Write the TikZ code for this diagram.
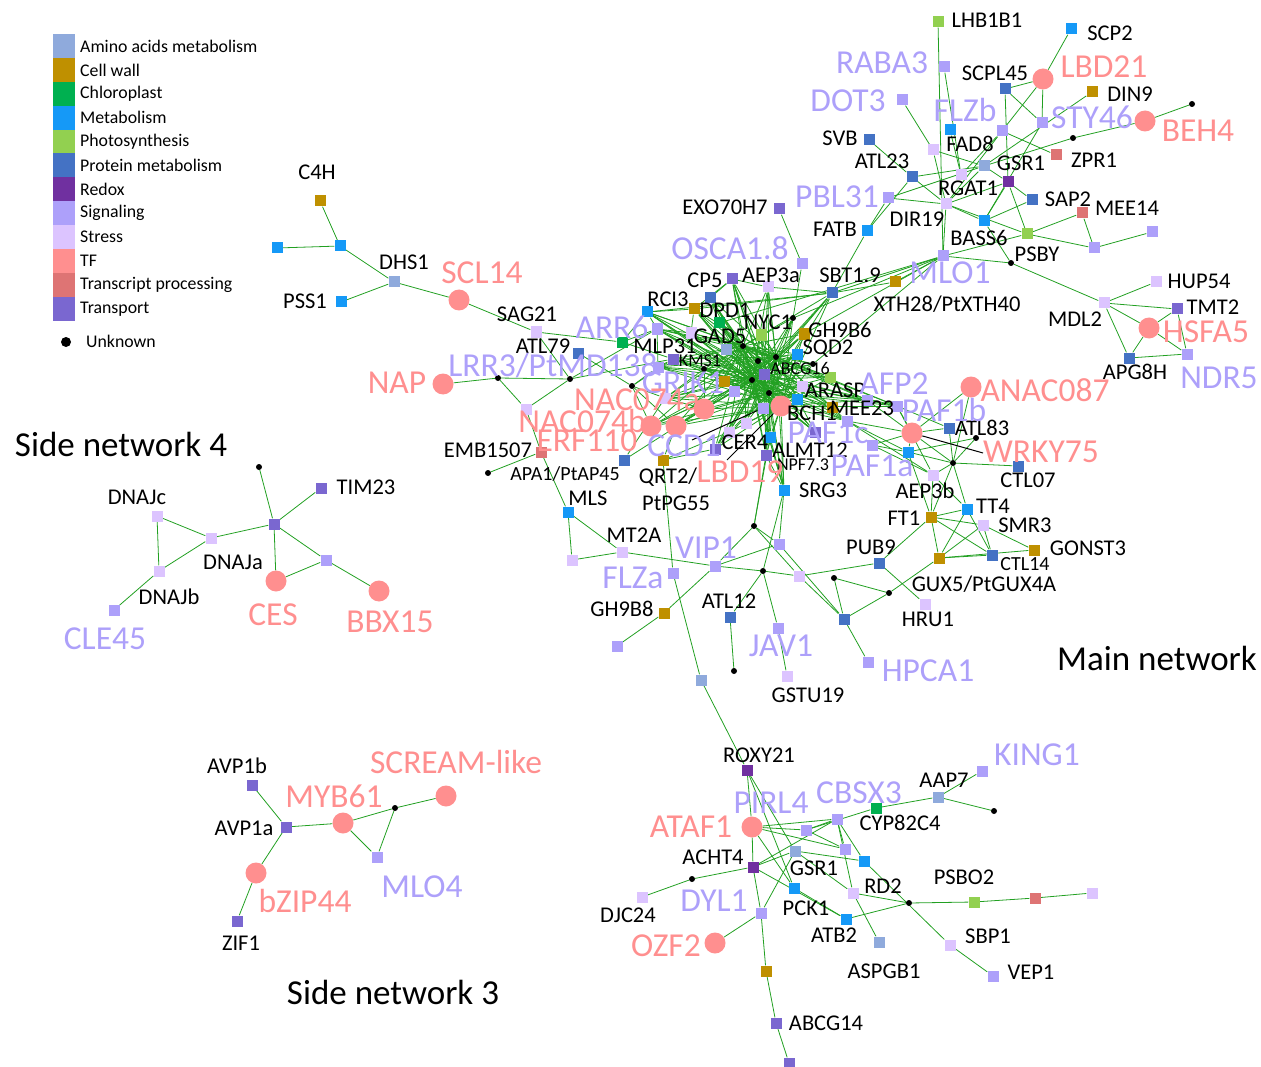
\documentclass[tikz,border=0pt]{standalone}
\usepackage{fontspec}
\setmainfont{Carlito}
\usetikzlibrary{backgrounds}
\definecolor{cAmino}{HTML}{8FAADC}
\definecolor{cWall}{HTML}{BF9000}
\definecolor{cChloro}{HTML}{00B050}
\definecolor{cMetab}{HTML}{1599F7}
\definecolor{cPhoto}{HTML}{92D050}
\definecolor{cProt}{HTML}{4472C4}
\definecolor{cRedox}{HTML}{7030A0}
\definecolor{cSig}{HTML}{ADA0FA}
\definecolor{cStress}{HTML}{DCC4FF}
\definecolor{cTF}{HTML}{FF8F8F}
\definecolor{cTproc}{HTML}{DE7474}
\definecolor{cTransp}{HTML}{7A67D0}
\definecolor{cEdge}{HTML}{22A022}
\tikzset{
  gene/.style={rectangle,inner sep=0pt,minimum size=11pt},
  amino/.style={gene,fill=cAmino},
  cwall/.style={gene,fill=cWall},
  chloro/.style={gene,fill=cChloro},
  metab/.style={gene,fill=cMetab},
  photo/.style={gene,fill=cPhoto},
  prot/.style={gene,fill=cProt},
  redox/.style={gene,fill=cRedox},
  sig/.style={gene,fill=cSig},
  stress/.style={gene,fill=cStress},
  tproc/.style={gene,fill=cTproc},
  transp/.style={gene,fill=cTransp},
  tfn/.style={circle,inner sep=0pt,minimum size=21pt,fill=cTF},
  unk/.style={circle,inner sep=0pt,minimum size=6pt,fill=black},
  edge/.style={draw=cEdge,line width=0.8pt},
  lead/.style={draw=black,line width=1pt},
  lbl/.style={inner sep=0pt,font=\fontsize{22.5}{24}\selectfont},
  sml/.style={inner sep=0pt,font=\fontsize{18}{20}\selectfont},
  bigsig/.style={inner sep=0pt,text=cSig,font=\fontsize{33.5}{36}\selectfont},
  bigtf/.style={inner sep=0pt,text=cTF,font=\fontsize{33.5}{36}\selectfont},
  ttl/.style={inner sep=0pt,font=\fontsize{35}{38}\selectfont},
  key/.style={inner sep=0pt,anchor=west,font=\fontsize{17.8}{19}\selectfont}
}

\begin{document}
\begin{tikzpicture}[x=1pt,y=-1pt]
\useasboundingbox (0,0) rectangle (1261,1067);

\foreach \c/\t [count=\i from 0] in {cAmino/Amino acids metabolism,cWall/Cell wall,cChloro/Chloroplast,cMetab/Metabolism,cPhoto/Photosynthesis,cProt/Protein metabolism,cRedox/Redox,cSig/Signaling,cStress/Stress,cTF/TF,cTproc/Transcript processing,cTransp/Transport}{
  \fill[\c] (53,{34+\i*23.9}) rectangle ++(22,23.9);
  \node[key] (key\i) at (80,{46+\i*23.9}) {\t};
}
\node[unk,minimum size=10pt] (keyU) at (66,342) {};
\node[key] (keyUt) at (86,341) {Unknown};

\node[ttl] (side4) at (121,444) {Side network 4};
\node[ttl] (mainnet) at (1157,658) {Main network};
\node[ttl] (side3) at (393,992) {Side network 3};

\node[cwall] (c4h) at (320,201) {};
\node[metab] (m4) at (340,246) {};
\node[metab] (m5) at (277,248) {};
\node[amino] (dhs1) at (394,282) {};
\node[metab] (pss1) at (341,302) {};
\node[tfn] (scl14) at (459,300) {};
\node[stress] (sag21) at (536,332) {};
\node[tfn] (nap) at (443,384) {};
\node[unk] (d8) at (498,378) {};
\node[unk] (d4) at (570,379) {};
\node[stress] (st6) at (526,409) {};
\node[tproc] (emb) at (541,452) {};
\node[unk] (d9) at (488,473) {};

\node[photo] (lhb) at (938,22) {};
\node[metab] (scp2) at (1071,29) {};
\node[sig] (raba3) at (944,67) {};
\node[prot] (scpl45) at (1005,89) {};
\node[tfn] (lbd21) at (1043,79) {};
\node[cwall] (din9) at (1092,92) {};
\node[sig] (dot3) at (902,100) {};
\node[metab] (flzbm) at (950,130) {};
\node[sig] (flzb) at (1002,131) {};
\node[sig] (sty46) at (1042,123) {};
\node[unk] (d1) at (1192,104) {};
\node[tfn] (beh4) at (1145,121) {};
\node[prot] (svb) at (869,140) {};
\node[unk] (d2) at (1073,138) {};
\node[tproc] (zpr1) at (1056,155) {};
\node[stress] (fad8) at (933,150) {};
\node[amino] (gsr1a) at (984,166) {};
\node[stress] (rgat1) at (961,175) {};
\node[prot] (atl23) at (912,177) {};
\node[redox] (redx1) at (1008,182) {};
\node[sig] (pbl31) at (888,198) {};
\node[stress] (dir19) at (946,204) {};
\node[prot] (sap2) at (1032,200) {};
\node[tproc] (mee14) at (1082,213) {};
\node[metab] (fatb) at (867,231) {};
\node[metab] (bass6) at (984,221) {};
\node[photo] (ph1) at (1027,234) {};
\node[sig] (s1) at (1152,232) {};
\node[sig] (s2) at (1094,248) {};
\node[sig] (mlo1) at (943,256) {};
\node[unk] (psby) at (1011,263) {};

\node[transp] (exo) at (779,209) {};
\node[sig] (osca) at (802,264) {};
\node[transp] (cp5) at (732,279) {};
\node[stress] (aep3a) at (768,287) {};
\node[prot] (sbt) at (832,293) {};
\node[cwall] (xth) at (895,282) {};
\node[metab] (rci3) at (647,312) {};
\node[prot] (pr1) at (710,298) {};
\node[cwall] (dpd1) at (694,309) {};
\node[chloro] (ch1) at (719,323) {};
\node[photo] (nyc1) at (761,335) {};
\node[unk] (dn) at (793,318) {};
\node[cwall] (gh9b6) at (804,334) {};
\node[sig] (arr6) at (657,329) {};
\node[stress] (st1) at (691,333) {};
\node[chloro] (ch2) at (622,342) {};
\node[amino] (gad5) at (726,349) {};
\node[unk] (c1) at (743,346) {};
\node[metab] (sqd2) at (797,354) {};
\node[prot] (atl79) at (578,353) {};
\node[transp] (kms1) at (673,359) {};
\node[sig] (s3) at (658,367) {};
\node[unk] (d3) at (704,369) {};
\node[unk] (c2) at (758,361) {};
\node[unk] (c3) at (776,357) {};
\node[unk] (c4) at (813,364) {};
\node[transp] (abcg16) at (764,374) {};
\node[photo] (ph2) at (830,377) {};
\node[unk] (d5) at (632,386) {};
\node[cwall] (cw1) at (724,381) {};
\node[unk] (c5) at (752,380) {};
\node[stress] (st2) at (802,386) {};
\node[sig] (s4) at (734,391) {};
\node[unk] (c6) at (769,393) {};
\node[metab] (m1) at (797,399) {};
\node[stress] (st3) at (665,398) {};
\node[tfn] (tf1) at (704,409) {};
\node[tfn] (tf2) at (781,406) {};
\node[sig] (afp2) at (867,400) {};
\node[cwall] (mee23) at (832,407) {};
\node[sig] (s5) at (763,408) {};
\node[tfn] (tf3) at (676,426) {};
\node[tfn] (tf4) at (651,426) {};
\node[stress] (st4) at (746,423) {};
\node[stress] (st5) at (729,432) {};
\node[sig] (s6) at (847,421) {};
\node[transp] (paf1c) at (815,432) {};
\node[metab] (m2) at (770,437) {};
\node[sig] (s7) at (872,445) {};
\node[transp] (cer4) at (715,449) {};
\node[transp] (almt) at (766,455) {};
\node[prot] (pr2) at (624,460) {};
\node[cwall] (qrt2) at (663,460) {};
\node[sig] (paf1b) at (897,406) {};
\node[tfn] (anac) at (971,387) {};
\node[tfn] (tf5) at (912,433) {};
\node[prot] (atl83) at (949,428) {};
\node[unk] (d6) at (976,438) {};
\node[metab] (m3) at (908,452) {};
\node[unk] (d7) at (953,463) {};
\node[prot] (ctl07) at (1018,466) {};
\node[stress] (aep3b) at (933,475) {};
\node[metab] (srg3) at (784,490) {};

\node[metab] (tt4) at (967,509) {};
\node[cwall] (ft1) at (931,517) {};
\node[stress] (smr3) at (983,525) {};
\node[cwall] (gonst3) at (1034,550) {};
\node[prot] (ctl14) at (992,555) {};
\node[cwall] (gux5) at (939,558) {};
\node[prot] (pub9) at (879,563) {};

\node[stress] (mdl2) at (1104,303) {};
\node[stress] (hup54) at (1156,282) {};
\node[transp] (tmt2) at (1177,309) {};
\node[tfn] (hsfa5) at (1149,328) {};
\node[prot] (apg8h) at (1129,358) {};
\node[sig] (ndr5) at (1187,354) {};

\node[metab] (mls) at (568,512) {};
\node[stress] (st7) at (572,560) {};
\node[stress] (mt2a) at (622,552) {};
\node[sig] (flza) at (673,573) {};
\node[sig] (vip1) at (715,566) {};
\node[unk] (d10) at (754,526) {};
\node[sig] (s8) at (779,544) {};
\node[unk] (d11) at (763,571) {};
\node[stress] (st8) at (799,576) {};
\node[unk] (d12) at (834,578) {};
\node[unk] (d13) at (889,593) {};
\node[stress] (hru1) at (925,604) {};
\node[prot] (pr3) at (844,619) {};
\node[sig] (hpca1) at (868,662) {};
\node[cwall] (gh9b8) at (664,613) {};
\node[sig] (s9) at (617,646) {};
\node[prot] (atl12) at (730,617) {};
\node[unk] (d14) at (734,671) {};
\node[sig] (jav1) at (778,628) {};
\node[stress] (gstu19) at (787,676) {};
\node[amino] (am1) at (701,680) {};

\node[redox] (roxy21) at (747,770) {};
\node[sig] (king1) at (982,771) {};
\node[amino] (aap7) at (938,797) {};
\node[unk] (d15) at (994,811) {};
\node[chloro] (cbsx3) at (876,808) {};
\node[tfn] (ataf1) at (752,827) {};
\node[sig] (s10) at (837,819) {};
\node[sig] (s11) at (806,830) {};
\node[sig] (s12) at (845,849) {};
\node[amino] (gsr1b) at (795,851) {};
\node[metab] (m6) at (864,861) {};
\node[redox] (acht4) at (753,867) {};
\node[unk] (d16) at (692,879) {};
\node[stress] (djc24) at (642,897) {};
\node[metab] (pck1) at (794,888) {};
\node[stress] (rd2) at (853,893) {};
\node[unk] (d17) at (909,903) {};
\node[photo] (psbo2) at (974,902) {};
\node[tproc] (tp2) at (1035,898) {};
\node[stress] (st9) at (1092,893) {};
\node[sig] (dyl1) at (761,913) {};
\node[metab] (atb2) at (846,919) {};
\node[tfn] (ozf2) at (715,943) {};
\node[amino] (aspgb1) at (879,942) {};
\node[stress] (sbp1) at (950,945) {};
\node[sig] (vep1) at (993,976) {};
\node[cwall] (cw2) at (766,971) {};
\node[transp] (abcg14) at (776,1023) {};
\node[transp] (tr1) at (789,1063) {};

\node[unk] (d18) at (259,467) {};
\node[transp] (tim23) at (321,488) {};
\node[stress] (dnajc) at (157,516) {};
\node[stress] (dnaja) at (211,538) {};
\node[transp] (hub4) at (274,524) {};
\node[stress] (dnajb) at (159,571) {};
\node[sig] (cle45) at (114,610) {};
\node[tfn] (ces) at (276,581) {};
\node[sig] (s13) at (326,560) {};
\node[tfn] (bbx15) at (379,591) {};

\node[transp] (avp1b) at (252,785) {};
\node[transp] (avp1a) at (286,827) {};
\node[tfn] (myb61) at (343,823) {};
\node[unk] (d19) at (395,808) {};
\node[tfn] (scream) at (446,796) {};
\node[sig] (mlo4) at (377,857) {};
\node[tfn] (bzip44) at (256,873) {};
\node[transp] (zif1) at (237,921) {};

\begin{scope}[on background layer]
\foreach \a in {c1,c3,c5,c6,abcg16,tf2}
  \foreach \b in {rci3,pr1,dpd1,ch1,cp5,aep3a,sbt,nyc1,gh9b6,gad5,sqd2,arr6,st1,kms1,s3,d3,cw1,ph2,st3,tf1,tf3,tf4,st4,st5,s5,m2,cer4,almt,mee23,afp2,s6,paf1c,paf1b,srg3,dn,st2,m1,c2,c4}
    \draw[edge] (\a) -- (\b);
\foreach \a/\b in {c4h/m4,m5/m4,m4/dhs1,pss1/dhs1,dhs1/scl14,scl14/sag21,sag21/ch2,sag21/d4,nap/d8,d8/d4,d8/st6,d4/st6,st6/emb,emb/d9,emb/mls,d4/arr6,d4/kms1,atl79/d5,d5/tf4,d5/tf3,d5/s3,d5/st3,d5/kms1,pr2/tf1,pr2/st3,qrt2/tf3,qrt2/cer4,qrt2/st5,ch2/rci3,ch2/arr6,ch2/kms1,arr6/rci3,rci3/dpd1,cp5/dpd1,cp5/pr1,pr1/ch1,dpd1/st1,arr6/st1,arr6/s3,s3/kms1,kms1/d3,tf3/tf1,st3/tf1,d3/tf1,d3/st3}
  \draw[edge] (\a) -- (\b);
\foreach \a/\b in {lhb/mlo1,raba3/rgat1,dot3/fad8,fad8/dir19,fad8/gsr1a,scp2/lbd21,lbd21/scpl45,lbd21/sty46,lbd21/flzb,scpl45/sty46,scpl45/redx1,din9/gsr1a,flzb/zpr1,flzb/rgat1,flzb/dir19,flzbm/rgat1,sty46/bass6,beh4/d1,beh4/d2,d2/gsr1a,svb/atl23,atl23/gsr1a,atl23/dir19,atl23/fatb,gsr1a/redx1,redx1/dir19,redx1/bass6,redx1/ph1,redx1/sap2,pbl31/dir19,pbl31/gsr1a,dir19/bass6,dir19/ph1,dir19/mlo1,dir19/gsr1a,sap2/bass6,bass6/psby,ph1/mee14,ph1/s2,mee14/s2,s2/s1,mlo1/ph1,mlo1/psby,psby/mdl2}
  \draw[edge] (\a) -- (\b);
\foreach \a/\b in {exo/osca,osca/dn,aep3a/sbt,cp5/aep3a,sbt/fatb,fatb/pbl31,sbt/xth,xth/mlo1,sbt/mlo1,mlo1/c4,mlo1/gh9b6,mlo1/dn,sbt/rci3,sbt/dpd1,mlo1/ch1}
  \draw[edge] (\a) -- (\b);
\foreach \a/\b in {afp2/tf5,paf1b/atl83,paf1b/tf5,paf1b/aep3b,anac/tf5,anac/d7,s6/tf5,s6/m3,s6/aep3b,s7/aep3b,s7/m3,s7/tf5,tf5/m3,tf5/atl83,atl83/d7,m3/d6,d6/d7,d7/ctl07,m3/d7,d7/aep3b,tf5/d7}
  \draw[edge] (\a) -- (\b);
\foreach \a/\b in {aep3b/tt4,aep3b/ft1,d7/tt4,d7/ft1,ft1/tt4,ft1/smr3,ft1/ctl14,ft1/gux5,tt4/gux5,tt4/ctl14,smr3/gux5,smr3/ctl14,smr3/gonst3,ctl14/gux5,gux5/gonst3,ft1/pub9,m3/ft1}
  \draw[edge] (\a) -- (\b);
\foreach \a/\b in {srg3/almt,srg3/m2,srg3/s8,srg3/d11,d10/m2,d10/almt,d10/vip1,d10/s8,d10/st8,s8/vip1,s8/pr3,vip1/gh9b8,gh9b8/s9,vip1/d11,d11/st8,st8/pub9,d11/atl12,atl12/d14,d11/jav1,jav1/gstu19,st8/pr3,d12/pr3,d12/d13,d13/pr3,d13/gux5,pr3/hpca1,pub9/hru1,mls/st7,mls/mt2a,st7/mt2a,mt2a/vip1,qrt2/flza,flza/am1,am1/roxy21}
  \draw[edge] (\a) -- (\b);
\foreach \a/\b in {mdl2/hup54,mdl2/tmt2,mdl2/hsfa5,mdl2/apg8h,tmt2/hsfa5,tmt2/ndr5,hsfa5/apg8h,hsfa5/ndr5,apg8h/ndr5}
  \draw[edge] (\a) -- (\b);
\foreach \a/\b in {roxy21/ataf1,roxy21/gsr1b,roxy21/pck1,ataf1/s10,ataf1/s11,ataf1/s12,ataf1/pck1,ataf1/acht4,cbsx3/aap7,cbsx3/s11,aap7/king1,aap7/d15,s11/s10,d16/acht4,djc24/d16,acht4/gsr1b,acht4/s10,acht4/atb2,acht4/dyl1,gsr1b/m6,gsr1b/rd2,gsr1b/dyl1,s10/m6,s10/s12,s10/rd2,s11/s12,rd2/aspgb1,rd2/d17,m6/sbp1,sbp1/vep1,pck1/atb2,atb2/d17,d17/psbo2,psbo2/tp2,tp2/st9,dyl1/ozf2,dyl1/cw2,cw2/abcg14,abcg14/tr1}
  \draw[edge] (\a) -- (\b);
\foreach \a/\b in {d18/hub4,tim23/hub4,hub4/dnaja,dnaja/dnajc,dnajc/dnajb,dnaja/dnajb,dnajb/cle45,hub4/ces,hub4/s13,ces/s13,s13/bbx15,avp1b/avp1a,avp1a/myb61,avp1a/bzip44,bzip44/zif1,myb61/d19,d19/scream,myb61/mlo4,mlo4/d19}
  \draw[edge] (\a) -- (\b);
\end{scope}

\coordinate (ccdT) at (692,440);
\coordinate (lbdT) at (727,460);
\coordinate (wrkT) at (983,453);
\draw[lead] (ccdT) -- (s5);
\draw[lead] (lbdT) -- (tf2);
\draw[lead] (tf5) -- (wrkT);

\node[lbl] (tC4H) at (317,172) {C4H};
\node[lbl] (tDHS1) at (404,262) {DHS1};
\node[lbl] (tPSS1) at (305,301) {PSS1};
\node[lbl] (tSAG21) at (527,314) {SAG21};
\node[lbl] (tATL79) at (543,346) {ATL79};
\node[lbl] (tEMB) at (488,450) {EMB1507};
\node[sml,font=\fontsize{20}{22}\selectfont] (tAPA1) at (565,474) {APA1/PtAP45};
\node[lbl] (tMLS) at (588,498) {MLS};
\node[lbl] (tQRT2) at (668,477) {QRT2/};
\node[lbl] (tPtPG) at (676,503) {PtPG55};
\node[lbl] (tMT2A) at (634,535) {MT2A};
\node[lbl] (tGH9B8) at (622,609) {GH9B8};
\node[lbl] (tATL12) at (729,601) {ATL12};
\node[lbl] (tGSTU) at (808,695) {GSTU19};
\node[lbl] (tHRU1) at (928,619) {HRU1};
\node[lbl] (tPUB9) at (871,547) {PUB9};
\node[lbl] (tSRG3) at (823,490) {SRG3};
\node[lbl] (tCER4) at (745,442) {CER4};
\node[lbl] (tALMT) at (810,450) {ALMT12};
\node[sml] (tNPF) at (803,465) {NPF7.3};
\node[lbl] (tBCH1) at (812,413) {BCH1};
\node[lbl] (tARASP) at (835,390) {ARASP};
\node[lbl] (tMEE23) at (862,408) {MEE23};
\node[sml] (tABCG16) at (800,368) {ABCG16};
\node[sml] (tKMS1) at (700,361) {KMS1};
\node[lbl] (tSQD2) at (828,349) {SQD2};
\node[lbl] (tGH9B6) at (840,330) {GH9B6};
\node[lbl] (tNYC1) at (768,322) {NYC1};
\node[lbl] (tGAD5) at (720,336) {GAD5};
\node[lbl] (tMLP31) at (665,346) {MLP31};
\node[lbl] (tDPD1) at (725,310) {DPD1};
\node[lbl] (tRCI3) at (668,299) {RCI3};
\node[lbl] (tCP5) at (705,280) {CP5};
\node[lbl] (tAEP3a) at (771,275) {AEP3a};
\node[lbl] (tSBT) at (850,275) {SBT1.9};
\node[lbl] (tXTH) at (947,304) {XTH28/PtXTH40};
\node[lbl] (tEXO) at (725,207) {EXO70H7};
\node[lbl] (tFATB) at (835,229) {FATB};
\node[lbl] (tDIR19) at (917,219) {DIR19};
\node[lbl] (tBASS6) at (979,238) {BASS6};
\node[lbl] (tPSBY) at (1037,254) {PSBY};
\node[lbl] (tATL23) at (882,161) {ATL23};
\node[lbl] (tSVB) at (840,138) {SVB};
\node[lbl] (tFAD8) at (970,144) {FAD8};
\node[lbl] (tGSR1a) at (1021,163) {GSR1};
\node[lbl] (tRGAT1) at (968,188) {RGAT1};
\node[lbl] (tSAP2) at (1068,199) {SAP2};
\node[lbl] (tMEE14) at (1127,208) {MEE14};
\node[lbl] (tZPR1) at (1094,160) {ZPR1};
\node[lbl] (tDIN9) at (1130,94) {DIN9};
\node[lbl] (tSCPL45) at (995,73) {SCPL45};
\node[lbl] (tSCP2) at (1110,33) {SCP2};
\node[lbl] (tLHB) at (987,20) {LHB1B1};
\node[lbl] (tHUP54) at (1199,281) {HUP54};
\node[lbl] (tTMT2) at (1213,307) {TMT2};
\node[lbl] (tMDL2) at (1075,319) {MDL2};
\node[lbl] (tAPG8H) at (1135,372) {APG8H};
\node[lbl] (tATL83) at (982,428) {ATL83};
\node[lbl] (tCTL07) at (1028,480) {CTL07};
\node[lbl] (tAEP3b) at (925,491) {AEP3b};
\node[lbl] (tTT4) at (993,506) {TT4};
\node[lbl] (tFT1) at (904,518) {FT1};
\node[lbl] (tSMR3) at (1025,525) {SMR3};
\node[lbl] (tGONST3) at (1088,548) {GONST3};
\node[sml,font=\fontsize{20}{22}\selectfont] (tCTL14) at (1025,564) {CTL14};
\node[lbl] (tGUX5) at (984,584) {GUX5/PtGUX4A};
\node[lbl] (tROXY21) at (759,755) {ROXY21};
\node[lbl] (tAAP7) at (944,780) {AAP7};
\node[lbl] (tCYP) at (900,823) {CYP82C4};
\node[lbl] (tACHT4) at (713,857) {ACHT4};
\node[lbl] (tGSR1b) at (814,868) {GSR1};
\node[lbl] (tRD2) at (883,886) {RD2};
\node[lbl] (tPSBO2) at (964,877) {PSBO2};
\node[lbl] (tPCK1) at (806,908) {PCK1};
\node[lbl] (tDJC24) at (628,915) {DJC24};
\node[lbl] (tATB2) at (834,935) {ATB2};
\node[lbl] (tSBP1) at (988,936) {SBP1};
\node[lbl] (tASPGB1) at (884,971) {ASPGB1};
\node[lbl] (tVEP1) at (1031,972) {VEP1};
\node[lbl] (tABCG14) at (826,1023) {ABCG14};
\node[lbl] (tTIM23) at (366,487) {TIM23};
\node[lbl] (tDNAJc) at (137,497) {DNAJc};
\node[lbl] (tDNAJa) at (233,562) {DNAJa};
\node[lbl] (tDNAJb) at (169,597) {DNAJb};
\node[lbl] (tAVP1b) at (237,766) {AVP1b};
\node[lbl] (tAVP1a) at (244,828) {AVP1a};
\node[lbl] (tZIF1) at (241,943) {ZIF1};

\node[bigsig] (tRABA3) at (882,63) {RABA3};
\node[bigsig] (tDOT3) at (848,101) {DOT3};
\node[bigsig] (tFLZb) at (965,110) {FLZb};
\node[bigsig] (tSTY46) at (1092,117) {STY46};
\node[bigsig] (tPBL31) at (837,197) {PBL31};
\node[bigsig] (tOSCA) at (730,248) {OSCA1.8};
\node[bigsig] (tMLO1) at (950,273) {MLO1};
\node[bigsig] (tARR6) at (612,327) {ARR6};
\node[bigsig] (tLRR3) at (553,366) {LRR3/PtMD138};
\node[bigsig] (tGRIK1) at (683,383) {GRIK1};
\node[bigsig] (tCCD1) at (684,446) {CCD1};
\node[bigsig] (tAFP2) at (894,384) {AFP2};
\node[bigsig] (tPAF1b) at (944,410) {PAF1b};
\node[bigsig] (tPAF1c) at (828,433) {PAF1c};
\node[bigsig] (tPAF1a) at (872,466) {PAF1a};
\node[bigsig] (tNDR5) at (1219,378) {NDR5};
\node[bigsig] (tVIP1) at (706,548) {VIP1};
\node[bigsig] (tFLZa) at (633,578) {FLZa};
\node[bigsig] (tJAV1) at (781,646) {JAV1};
\node[bigsig] (tHPCA1) at (928,671) {HPCA1};
\node[bigsig] (tKING1) at (1037,755) {KING1};
\node[bigsig] (tCBSX3) at (859,793) {CBSX3};
\node[bigsig] (tPIRL4) at (771,803) {PIRL4};
\node[bigsig] (tDYL1) at (714,901) {DYL1};
\node[bigsig] (tCLE45) at (105,639) {CLE45};
\node[bigsig] (tMLO4) at (422,887) {MLO4};

\node[bigtf] (tLBD21) at (1104,67) {LBD21};
\node[bigtf] (tBEH4) at (1198,131) {BEH4};
\node[bigtf] (tSCL14) at (482,273) {SCL14};
\node[bigtf] (tNAP) at (397,383) {NAP};
\node[bigtf] (tNAC074a) at (637,400) {NAC074a};
\node[bigtf] (tNAC074b) at (582,421) {NAC074b};
\node[bigtf] (tERF110) at (587,441) {ERF110};
\node[bigtf] (tLBD19) at (740,472) {LBD19};
\node[bigtf] (tANAC087) at (1045,390) {ANAC087};
\node[bigtf] (tWRKY75) at (1041,452) {WRKY75};
\node[bigtf] (tHSFA5) at (1206,332) {HSFA5};
\node[bigtf] (tATAF1) at (691,827) {ATAF1};
\node[bigtf] (tOZF2) at (666,946) {OZF2};
\node[bigtf] (tCES) at (273,615) {CES};
\node[bigtf] (tBBX15) at (390,622) {BBX15};
\node[bigtf] (tSCREAM) at (456,762) {SCREAM-like};
\node[bigtf] (tMYB61) at (334,796) {MYB61};
\node[bigtf] (tbZIP44) at (305,901) {bZIP44};
\end{tikzpicture}
\end{document}
